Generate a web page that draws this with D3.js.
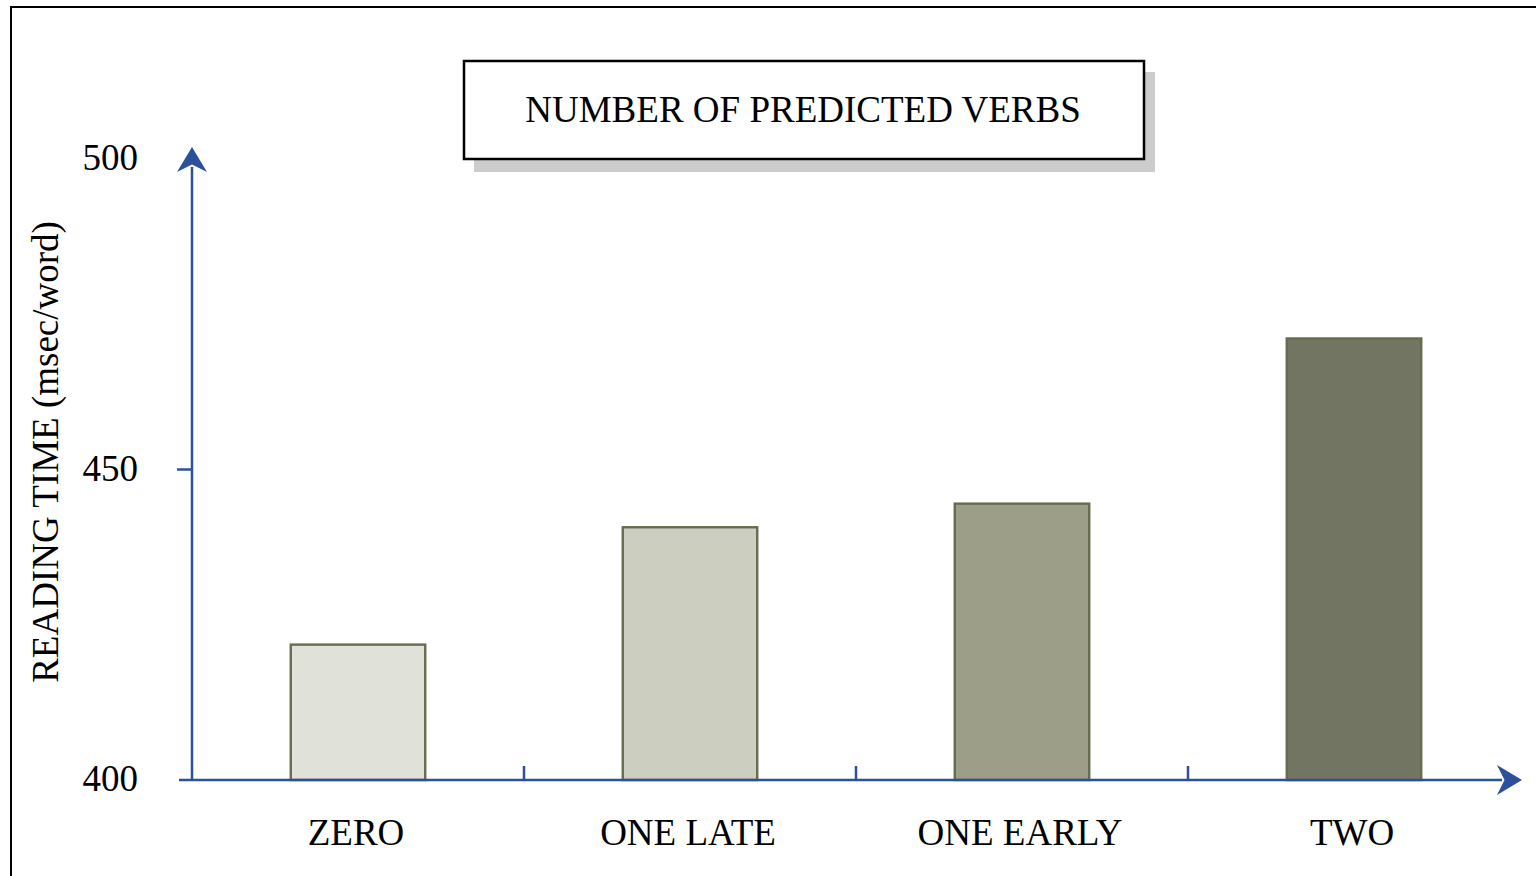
<!DOCTYPE html>
<html>
<head>
<meta charset="utf-8">
<script src="https://cdn.jsdelivr.net/npm/d3@7"></script>
<style>
  body { margin: 0; background: #fff; }
  svg { display: block; }
  text { font-family: "Liberation Serif", "DejaVu Serif", serif; fill: #000; }
</style>
</head>
<body>
<div id="chart"></div>
<script>
const categories = ['ZERO', 'ONE LATE', 'ONE EARLY', 'TWO']
const values = [421.8, 440.7, 444.5, 471.1]
const barColors = ['#e0e1d9', '#cccebf', '#9c9e87', '#737563']
const yTicks = [400, 450, 500]
const title = 'NUMBER OF PREDICTED VERBS'
const yLabel = 'READING TIME (msec/word)'

const width = 1536, height = 876
const axisColor = '#2c519a'
const fontSize = 37
const svg = d3.select('#chart').append('svg')
    .attr('width', width)
    .attr('height', height)

// outer frame, runs off the right and bottom edges
svg.append('rect')
    .attr('x', 11).attr('y', 7)
    .attr('width', 1600).attr('height', 1000)
    .attr('fill', 'none').attr('stroke', '#000').attr('stroke-width', 2)

const x = d3.scaleBand().domain(categories).range([192, 1520]).paddingInner(0).paddingOuter(0)
const y = d3.scaleLinear().domain([400, 500]).range([780, 159])

const barW = x.bandwidth() * 0.405

// bars
svg.selectAll('rect.bar').data(categories).enter().append('rect')
    .attr('class', 'bar')
    .attr('x', d => x(d) + x.bandwidth() / 2 - barW / 2)
    .attr('y', (d, i) => y(values[i]))
    .attr('width', barW)
    .attr('height', (d, i) => y(400) - y(values[i]))
    .attr('fill', (d, i) => barColors[i])
    .attr('stroke', '#676c4e')
    .attr('stroke-width', 2.4)

// arrow marker
const defs = svg.append('defs')
defs.append('marker')
    .attr('id', 'arrow')
    .attr('viewBox', '0 0 10 12')
    .attr('refX', 2).attr('refY', 6)
    .attr('markerWidth', 10).attr('markerHeight', 12)
    .attr('markerUnits', 'strokeWidth')
    .attr('orient', 'auto')
    .append('path')
    .attr('d', 'M0,0 L10,6 L0,12 L3,6 Z')
    .attr('fill', axisColor)

// y axis
svg.append('line')
    .attr('x1', 192).attr('y1', 781)
    .attr('x2', 192).attr('y2', 167)
    .attr('stroke', axisColor).attr('stroke-width', 2.5)
    .attr('marker-end', 'url(#arrow)')

// x axis
svg.append('line')
    .attr('x1', 179).attr('y1', 780)
    .attr('x2', 1502).attr('y2', 780)
    .attr('stroke', axisColor).attr('stroke-width', 2.5)
    .attr('marker-end', 'url(#arrow)')

// y ticks
svg.selectAll('line.ytick').data(yTicks.filter(d => d !== 400 && d !== 500)).enter().append('line')
    .attr('class', 'ytick')
    .attr('x1', 177).attr('x2', 192)
    .attr('y1', d => y(d)).attr('y2', d => y(d))
    .attr('stroke', axisColor).attr('stroke-width', 2.5)

svg.selectAll('text.ylab').data(yTicks).enter().append('text')
    .attr('class', 'ylab')
    .attr('x', 138)
    .attr('y', d => y(d) + 3)
    .attr('text-anchor', 'end')
    .attr('dominant-baseline', 'middle')
    .attr('font-size', fontSize)
    .text(d => d)

// x ticks between categories
svg.selectAll('line.xtick').data(categories.slice(1)).enter().append('line')
    .attr('class', 'xtick')
    .attr('x1', d => x(d)).attr('x2', d => x(d))
    .attr('y1', 780).attr('y2', 766)
    .attr('stroke', axisColor).attr('stroke-width', 2.5)

svg.selectAll('text.xlab').data(categories).enter().append('text')
    .attr('class', 'xlab')
    .attr('x', d => x(d) + x.bandwidth() / 2 - 2)
    .attr('y', 845)
    .attr('text-anchor', 'middle')
    .attr('font-size', fontSize)
    .text(d => d)

// y axis title
svg.append('text')
    .attr('transform', 'translate(58,452) rotate(-90)')
    .attr('text-anchor', 'middle')
    .attr('font-size', fontSize)
    .text(yLabel)

// title box with shadow
svg.append('rect')
    .attr('x', 474).attr('y', 72)
    .attr('width', 681).attr('height', 100)
    .attr('fill', '#cccccc')
svg.append('rect')
    .attr('x', 464).attr('y', 61)
    .attr('width', 680).attr('height', 98)
    .attr('fill', '#fff').attr('stroke', '#000').attr('stroke-width', 2.5)
svg.append('text')
    .attr('x', 803).attr('y', 122)
    .attr('text-anchor', 'middle')
    .attr('font-size', fontSize)
    .text(title)
</script>
</body>
</html>
